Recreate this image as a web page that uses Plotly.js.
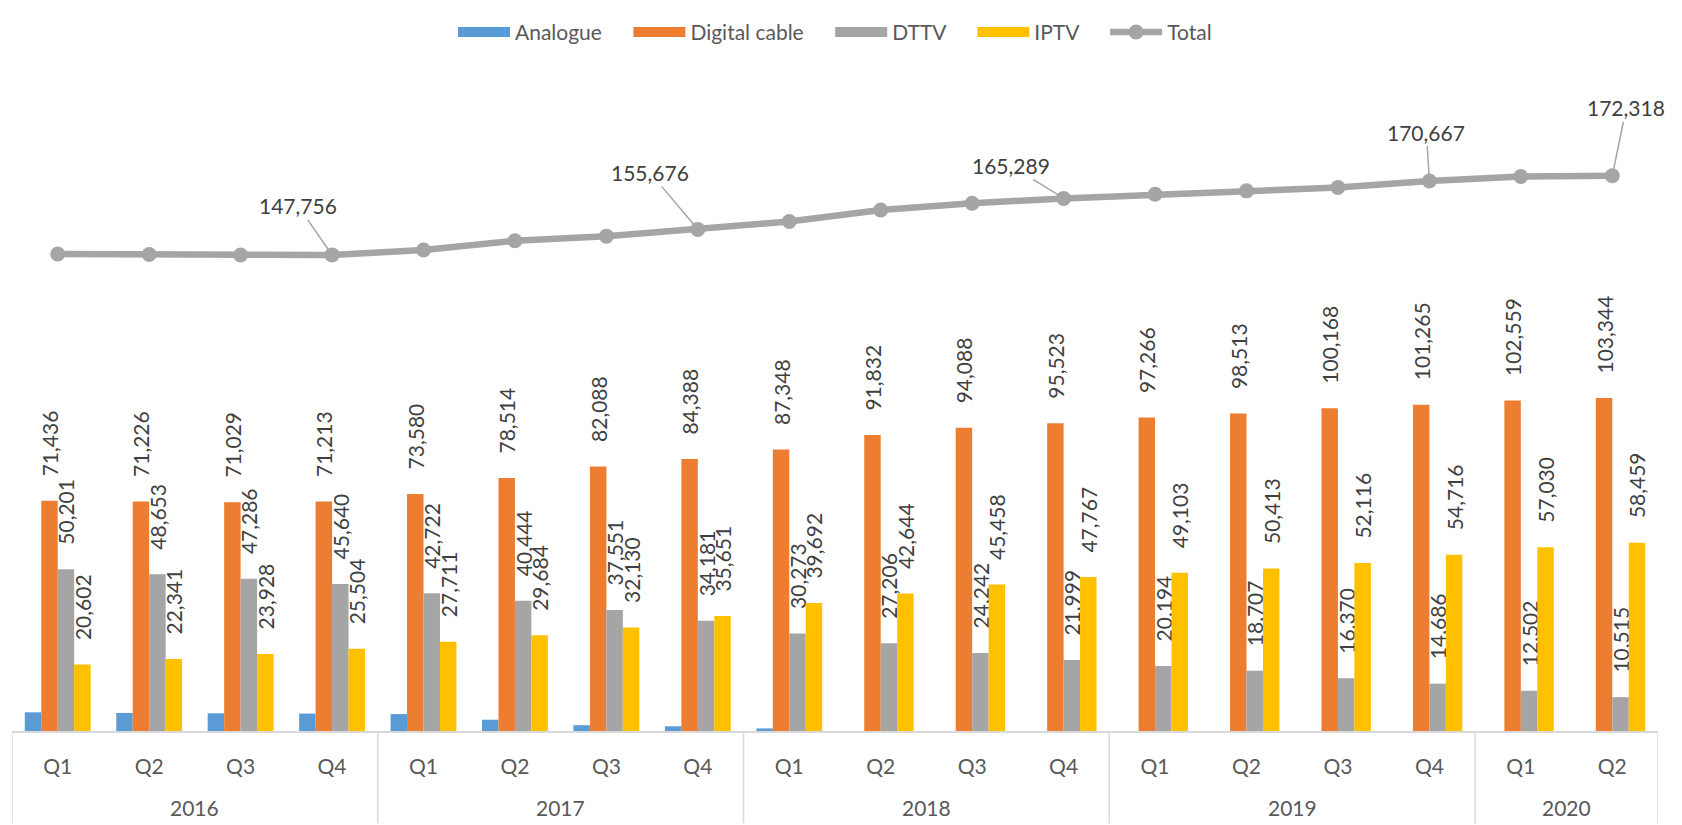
<!DOCTYPE html>
<html>
<head>
<meta charset="utf-8">
<script src="https://cdn.plot.ly/plotly-3.0.1.min.js"></script>
<style>
  html, body { margin: 0; padding: 0; background: #ffffff; }
  #chart { width: 1682px; height: 825px; }
</style>
</head>
<body>
<div id="chart"></div>
<script>
// ---- Data ----
const years    = ['2016','2016','2016','2016','2017','2017','2017','2017','2018','2018','2018','2018','2019','2019','2019','2019','2020','2020'];
const quarters = ['Q1','Q2','Q3','Q4','Q1','Q2','Q3','Q4','Q1','Q2','Q3','Q4','Q1','Q2','Q3','Q4','Q1','Q2'];

const analogue     = [5800, 5600, 5500, 5399, 5250, 3500, 1800, 1456, 800, 0, 0, 0, 0, 0, 0, 0, 0, 0];
const digitalCable = [71436, 71226, 71029, 71213, 73580, 78514, 82088, 84388, 87348, 91832, 94088, 95523, 97266, 98513, 100168, 101265, 102559, 103344];
const dttv         = [50201, 48653, 47286, 45640, 42722, 40444, 37551, 34181, 30273, 27206, 24242, 21999, 20194, 18707, 16370, 14686, 12502, 10515];
const iptv         = [20602, 22341, 23928, 25504, 27711, 29684, 32130, 35651, 39692, 42644, 45458, 47767, 49103, 50413, 52116, 54716, 57030, 58459];
const total        = [148039, 147870, 147743, 147756, 149263, 152142, 153569, 155676, 158113, 161682, 163788, 165289, 166563, 167633, 168654, 170667, 172091, 172318];

// indices of the Total points that carry a callout label, with callout offsets
const totalLabelIdx = [3, 7, 11, 15, 17];
const totalLabelOff = [[-34, -49], [-48, -57], [-53, -33], [-3, -49], [14, -68]];

// ---- Styling ----
const FONT = 'Lato, "Open Sans", sans-serif';
const LABEL_COLOR = '#404040';
const AXIS_COLOR = '#595959';
const GRID_COLOR = '#D9D9D9';
const PAD = '\u00a0\u00a0\u00a0\u00a0';
const LEGEND_GAP = '\u00a0\u00a0\u00a0\u00a0';
const fmt = v => v.toLocaleString('en-US');

const W = 1682, H = 825;
const M = { l: 12, r: 24, t: 40, b: 94 };
const plotH = H - M.t - M.b;

const xs = quarters.map((_, i) => i);

// year groups from the years array
const groups = [];
years.forEach((y, i) => {
  if (!groups.length || groups[groups.length - 1].year !== y) groups.push({ year: y, start: i, end: i });
  else groups[groups.length - 1].end = i;
});

const series = [
  { name: 'Analogue', vals: analogue, color: '#5B9BD5', labels: false },
  { name: 'Digital cable', vals: digitalCable, color: '#ED7D31', labels: true },
  { name: 'DTTV', vals: dttv, color: '#A5A5A5', labels: true },
  { name: 'IPTV', vals: iptv, color: '#FFC000', labels: true }
];

function barTrace(s) {
  const t = {
    type: 'bar',
    name: s.name,
    x: xs,
    y: s.vals,
    showlegend: false,
    legendgroup: s.name,
    marker: { color: s.color, line: { width: 0 } },
    hoverinfo: 'skip'
  };
  if (s.labels) {
    t.text = s.vals.map(v => PAD + fmt(v));
    t.textposition = 'outside';
    t.textangle = -90;
    t.constraintext = 'none';
    t.cliponaxis = false;
    t.outsidetextfont = { family: FONT, size: 21, color: LABEL_COLOR };
    t.textfont = { family: FONT, size: 21, color: LABEL_COLOR };
  } else {
    t.textposition = 'none';
  }
  return t;
}

// legend entries drawn as wide swatches (Excel style)
function legendTrace(s) {
  return {
    type: 'scatter',
    mode: 'lines',
    name: s.name + LEGEND_GAP,
    legendgroup: s.name,
    x: [null],
    y: [null],
    line: { color: s.color, width: 17 },
    hoverinfo: 'skip'
  };
}

const traces = series.map(barTrace)
  .concat(series.map(legendTrace))
  .concat([{
    type: 'scatter',
    mode: 'lines+markers',
    name: 'Total',
    x: xs,
    y: total,
    line: { color: '#A5A5A5', width: 6.5 },
    marker: { color: '#A5A5A5', size: 15 },
    cliponaxis: false,
    hoverinfo: 'skip'
  }]);

const annotations = totalLabelIdx.map((i, k) => ({
  x: xs[i],
  y: total[i],
  xref: 'x',
  yref: 'y',
  text: fmt(total[i]),
  showarrow: true,
  arrowhead: 0,
  arrowwidth: 1.5,
  arrowcolor: '#A5A5A5',
  ax: totalLabelOff[k][0],
  ay: totalLabelOff[k][1],
  standoff: 6,
  font: { family: FONT, size: 21, color: LABEL_COLOR }
}));

// year labels under the quarter labels
groups.forEach(g => {
  annotations.push({
    x: (g.start + g.end) / 2,
    y: -(809 - (H - M.b)) / plotH,
    xref: 'x',
    yref: 'paper',
    yanchor: 'middle',
    text: g.year,
    showarrow: false,
    font: { family: FONT, size: 21, color: AXIS_COLOR }
  });
});

// group dividers
const shapes = [];
const bounds = [groups[0].start - 0.5].concat(groups.map(g => g.end + 0.5));
bounds.forEach(b => {
  shapes.push({
    type: 'line',
    xref: 'x', yref: 'paper',
    x0: b, x1: b,
    y0: 0, y1: -M.b / plotH,
    line: { color: GRID_COLOR, width: 1.5 }
  });
});

const layout = {
  width: W,
  height: H,
  margin: { l: M.l, r: M.r, t: M.t, b: M.b, pad: 0 },
  paper_bgcolor: '#ffffff',
  plot_bgcolor: '#ffffff',
  font: { family: FONT, size: 21, color: AXIS_COLOR },
  barmode: 'group',
  bargap: 0.28,
  bargroupgap: 0,
  showlegend: true,
  legend: {
    orientation: 'h',
    x: 0.5,
    xanchor: 'center',
    y: 1 + (M.t - 19) / plotH,
    yanchor: 'middle',
    font: { family: FONT, size: 21, color: AXIS_COLOR },
    itemwidth: 52,
    traceorder: 'normal'
  },
  xaxis: {
    type: 'linear',
    range: [-0.5, xs.length - 0.5],
    tickmode: 'array',
    tickvals: xs,
    ticktext: quarters,
    showline: true,
    linecolor: GRID_COLOR,
    linewidth: 1.5,
    showgrid: false,
    zeroline: false,
    ticks: '',
    ticklabelstandoff: 16,
    tickfont: { family: FONT, size: 21, color: AXIS_COLOR }
  },
  yaxis: {
    visible: false,
    range: [0, plotH / 0.003284],
    showgrid: false,
    zeroline: false
  },
  annotations: annotations,
  shapes: shapes
};

Plotly.newPlot('chart', traces, layout, { displayModeBar: false, staticPlot: true });
</script>
</body>
</html>
